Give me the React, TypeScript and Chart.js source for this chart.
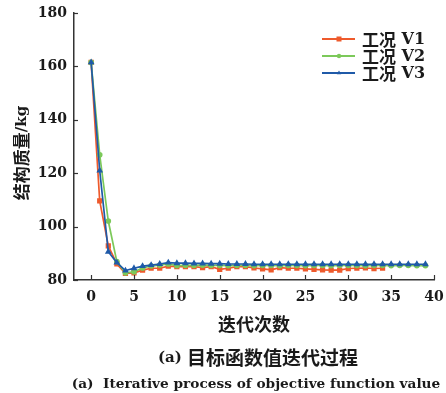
import React, { useEffect, useRef } from "react";
import { Chart, registerables } from "chart.js";
Chart.register(...registerables);

const iterationsV1 = [0, 1, 2, 3, 4, 5, 6, 7, 8, 9, 10, 11, 12, 13, 14, 15, 16, 17, 18, 19, 20, 21, 22, 23, 24, 25, 26, 27, 28, 29, 30, 31, 32, 33, 34];
const iterationsV23 = [0, 1, 2, 3, 4, 5, 6, 7, 8, 9, 10, 11, 12, 13, 14, 15, 16, 17, 18, 19, 20, 21, 22, 23, 24, 25, 26, 27, 28, 29, 30, 31, 32, 33, 34, 35, 36, 37, 38, 39];
const massV1 = [161.5, 109.6, 92.8, 86.0, 82.5, 82.7, 83.7, 84.4, 84.4, 85.2, 85.0, 85.0, 85.0, 84.6, 85.0, 84.0, 84.4, 85.0, 85.0, 84.5, 84.2, 83.8, 84.6, 84.4, 84.4, 84.2, 84.0, 83.8, 83.7, 83.7, 84.3, 84.4, 84.5, 84.3, 84.4];
const massV2 = [161.5, 126.9, 102.1, 86.9, 82.7, 83.1, 84.5, 85.3, 85.6, 86.0, 85.4, 85.5, 85.5, 85.6, 85.5, 85.5, 85.4, 85.5, 85.5, 85.4, 85.5, 85.5, 85.4, 85.5, 85.5, 85.4, 85.5, 85.5, 85.4, 85.5, 85.5, 85.5, 85.4, 85.5, 85.5, 85.4, 85.5, 85.5, 85.4, 85.4];
const massV3 = [161.5, 121.0, 90.6, 86.5, 83.5, 84.4, 85.2, 85.6, 86.0, 86.5, 86.3, 86.3, 86.2, 86.2, 86.1, 86.1, 86.0, 86.0, 86.0, 85.9, 85.9, 85.9, 85.9, 85.9, 85.9, 85.9, 85.9, 85.9, 85.9, 85.9, 85.9, 85.9, 85.9, 85.9, 85.9, 85.9, 85.9, 85.9, 85.9, 85.9];
const seriesLabels = ["工况 V1", "工况 V2", "工况 V3"];
const xTickValues = [0, 5, 10, 15, 20, 25, 30, 35, 40];
const yTickValues = [80, 100, 120, 140, 160, 180];
const xTitle = "迭代次数";
const yTitle = "结构质量/kg";
const captionZh = "(a) 目标函数值迭代过程";
const captionEn = "(a)  Iterative process of objective function value";

const RED = "#ee5a2c";
const GREEN = "#7cc95a";
const BLUE = "#1f5aa8";
const AXIS = "#333333";
const TEXT = "#1a1a1a";
const SERIF = '"DejaVu Serif", serif';
const CJK = '"Noto Sans CJK SC", sans-serif';

// draw text mixing CJK (one size) and Latin (another size), centred or left aligned
function drawMixed(ctx: any, text: string, x: number, y: number, cjkSize: number, latSize: number, align: string) {
  const parts = text.split(/([\u3000-\u9fff]+)/).filter((p) => p.length);
  const fonts = parts.map((p) => (/[\u3000-\u9fff]/.test(p) ? `bold ${cjkSize}px ${CJK}` : `bold ${latSize}px ${SERIF}`));
  let total = 0;
  const widths = parts.map((p, i) => {
    ctx.font = fonts[i];
    const w = ctx.measureText(p).width;
    total += w;
    return w;
  });
  let cx = align === "center" ? x - total / 2 : x;
  ctx.textAlign = "left";
  ctx.textBaseline = "middle";
  parts.forEach((p, i) => {
    ctx.font = fonts[i];
    ctx.fillText(p, cx, y);
    cx += widths[i];
  });
}

const overlay = {
  id: "overlay",
  afterDraw(chart: any) {
    const ctx = chart.ctx;
    const xs = chart.scales.x;
    const ys = chart.scales.y;
    ctx.save();
    ctx.strokeStyle = AXIS;
    ctx.lineWidth = 1.2;
    // inward ticks
    xTickValues.forEach((v) => {
      const px = Math.round(xs.getPixelForValue(v)) + 0.5;
      ctx.beginPath();
      ctx.moveTo(px, ys.bottom);
      ctx.lineTo(px, ys.bottom - 5);
      ctx.stroke();
    });
    yTickValues.forEach((v) => {
      const py = Math.round(ys.getPixelForValue(v)) + 0.5;
      ctx.beginPath();
      ctx.moveTo(xs.left, py);
      ctx.lineTo(xs.left + 4, py);
      ctx.stroke();
    });
    // legend
    const colors = [RED, GREEN, BLUE];
    const styles = ["rect", "circle", "triangle"];
    const rows = [39, 56, 73];
    seriesLabels.forEach((lab, i) => {
      const y = rows[i];
      ctx.strokeStyle = colors[i];
      ctx.fillStyle = colors[i];
      ctx.lineWidth = 1.8;
      ctx.beginPath();
      ctx.moveTo(322, y);
      ctx.lineTo(355, y);
      ctx.stroke();
      const cx = 339;
      if (styles[i] === "rect") ctx.fillRect(cx - 2.5, y - 2.5, 5, 5);
      else if (styles[i] === "circle") {
        ctx.beginPath();
        ctx.arc(cx, y, 2.2, 0, Math.PI * 2);
        ctx.fill();
      } else {
        ctx.beginPath();
        ctx.moveTo(cx, y - 2.5);
        ctx.lineTo(cx + 2.2, y + 1.2);
        ctx.lineTo(cx - 2.2, y + 1.2);
        ctx.closePath();
        ctx.fill();
      }
      ctx.fillStyle = TEXT;
      drawMixed(ctx, lab, 362, y + 1, 17, 16, "left");
    });
    ctx.fillStyle = TEXT;
    // axis titles
    drawMixed(ctx, xTitle, 254, 324, 18, 15, "center");
    ctx.save();
    ctx.translate(22, 153);
    ctx.rotate(-Math.PI / 2);
    drawMixed(ctx, yTitle, 0, 0, 17, 15, "center");
    ctx.restore();
    // captions
    drawMixed(ctx, captionZh, 258, 358, 19, 15, "center");
    ctx.font = `bold 13.7px ${SERIF}`;
    ctx.textAlign = "center";
    ctx.textBaseline = "middle";
    ctx.fillText(captionEn, 256, 384);
    ctx.restore();
  },
};

export default function App() {
  const ref = useRef<HTMLCanvasElement>(null);
  useEffect(() => {
    if (!ref.current) return;
    const mk = (xs: number[], ys: number[]) => xs.map((x, i) => ({ x, y: ys[i] }));
    const chart = new Chart(ref.current, {
      type: "line",
      data: {
        datasets: [
          {
            label: seriesLabels[0],
            data: mk(iterationsV1, massV1),
            borderColor: RED,
            backgroundColor: RED,
            pointStyle: "rect",
            pointRadius: 2.5,
            borderWidth: 1.7,
            order: 3,
          },
          {
            label: seriesLabels[1],
            data: mk(iterationsV23, massV2),
            borderColor: GREEN,
            backgroundColor: GREEN,
            pointStyle: "circle",
            pointRadius: 2,
            borderWidth: 1.7,
            order: 2,
          },
          {
            label: seriesLabels[2],
            data: mk(iterationsV23, massV3),
            borderColor: BLUE,
            backgroundColor: BLUE,
            pointStyle: "triangle",
            pointRadius: 2.2,
            borderWidth: 1.7,
            order: 1,
          },
        ],
      },
      options: {
        animation: false,
        responsive: false,
        layout: { padding: { left: 4, right: 12, top: 13, bottom: 0 } },
        plugins: { legend: { display: false }, tooltip: { enabled: false } },
        scales: {
          x: {
            type: "linear",
            min: -2,
            max: 40,
            afterBuildTicks: (s: any) => {
              s.ticks = xTickValues.map((v) => ({ value: v }));
            },
            afterFit: (s: any) => {
              s.height = 113;
              s.paddingLeft = 0;
              s.paddingRight = 0;
            },
            grid: { display: false, drawTicks: false },
            border: { display: true, color: AXIS, width: 1.5 },
            ticks: { color: TEXT, font: { family: SERIF, size: 14, weight: "bold" }, padding: 9, maxRotation: 0 },
          },
          y: {
            type: "linear",
            min: 80,
            max: 180,
            afterBuildTicks: (s: any) => {
              s.ticks = yTickValues.map((v) => ({ value: v }));
            },
            afterFit: (s: any) => {
              s.width = 70;
              s.paddingTop = 0;
              s.paddingBottom = 0;
            },
            grid: { display: false, drawTicks: false },
            border: { display: true, color: AXIS, width: 1.5 },
            ticks: { color: TEXT, font: { family: SERIF, size: 14, weight: "bold" }, padding: 7 },
          },
        },
      },
      plugins: [overlay],
    });
    return () => chart.destroy();
  }, []);
  return (
    <div style={{ position: "fixed", left: 0, top: 0, width: 446, height: 393, background: "#fff" }}>
      <canvas ref={ref} width={446} height={393} />
    </div>
  );
}
